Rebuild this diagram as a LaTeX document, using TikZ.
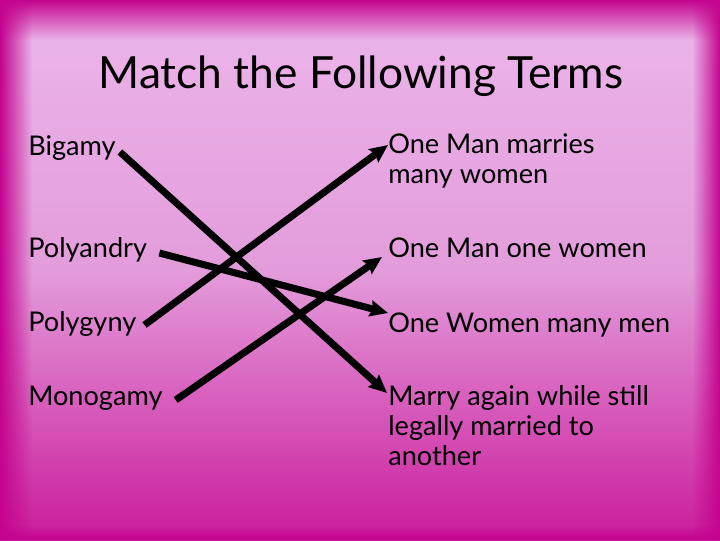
\documentclass[tikz,border=0pt]{standalone}
\usepackage{fontspec}
\setmainfont{Lato}
\usepackage{tikz}
\usetikzlibrary{arrows.meta,positioning,fadings}
\definecolor{rosatop}{HTML}{ECB6EB}
\definecolor{rosamid}{HTML}{E39CDB}
\definecolor{rosabot}{HTML}{CB1C9C}
\definecolor{magenta}{HTML}{C4048F}

\begin{document}
\begin{tikzpicture}[
  x=0.025cm, y=-0.025cm,
  term/.style={anchor=base west, inner sep=0pt, font=\fontsize{19.3}{21.3}\selectfont},
  defn/.style={anchor=base west, inner sep=0pt, align=left, font=\fontsize{19.3}{21.3}\selectfont},
  arr/.style={line width=5pt, -{Stealth[length=0.45cm,width=0.4cm,inset=0.06cm]}}
]
% background
\useasboundingbox (0,0) rectangle (720,540);
\shade[top color=rosatop, bottom color=rosamid] (0,0) rectangle (720,270);
\shade[top color=rosamid, bottom color=rosabot] (0,270) rectangle (720,540);
\fill[magenta, path fading=east] (0,0) rectangle (32,540);
\fill[magenta, path fading=west] (692,0) rectangle (720,540);
\fill[magenta, path fading=south] (0,0) rectangle (720,40);
\fill[magenta, path fading=north] (0,525) rectangle (720,540);

\node[anchor=base, inner sep=0pt, font=\fontsize{31.5}{36}\selectfont] (title) at (361,88) {Match the Following Terms};

% terms
\node[term] (bigamy)    at (28,155) {Bigamy};
\node[term] (polyandry) at (28,257) {Polyandry};
\node[term] (polygyny)  at (28,331) {Polygyny};
\node[term] (monogamy)  at (28,405) {Monogamy};

% meanings (base = last line)
\node[defn] (manymany) at (388,183) {One Man marries\\many women};
\node[defn] (oneone)   at (388,257) {One Man one women};
\node[defn] (womenmen) at (388,332) {One Women many men};
\node[defn] (again)    at (388,465) {Marry again while still\\legally married to\\another};

\draw[arr] ([shift={(4,-3)}]bigamy.base east) -- ([shift={(-1,-72)}]again.base west);
\draw[arr] ([shift={(12,-4)}]polyandry.base east) -- ([shift={(0,-19)}]womenmen.base west);
\draw[arr] ([shift={(8,-6)}]polygyny.base east) -- ([shift={(0,-38)}]manymany.base west);
\draw[arr] ([shift={(13,-5)}]monogamy.base east) -- ([shift={(-6,0)}]oneone.base west);
\end{tikzpicture}
\end{document}
